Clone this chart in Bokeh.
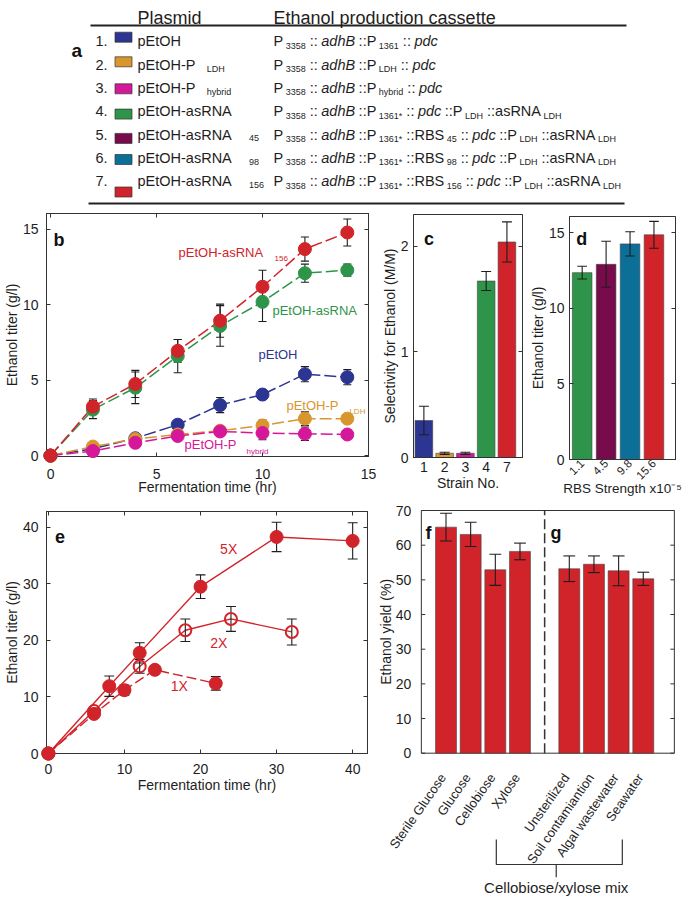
import math
from bokeh.plotting import figure
from bokeh.models import Range1d, LinearAxis, FixedTicker, Label
from bokeh.layouts import row, column
from bokeh.embed import file_html
from bokeh.resources import INLINE
from bokeh.core.properties import value

FONT = "Liberation Sans"
AXC = "#333333"
TXC = "#1e1e1e"
ERRC = "#1e1e1e"
BLUE = "#2c3591"
ORANGE = "#d9962f"
MAGENTA = "#d5179a"
GREEN = "#2e944a"
PURPLE = "#770b4b"
TEAL = "#0b6f98"
RED = "#d1232a"

# ------------------------------------------------------------------ data
# (a) plasmid table
plasmid_names = ["pEtOH", "pEtOH-P", "pEtOH-P", "pEtOH-asRNA", "pEtOH-asRNA", "pEtOH-asRNA", "pEtOH-asRNA"]
plasmid_subs = ["", "LDH", "hybrid", "", "45", "98", "156"]
plasmid_colors = [BLUE, ORANGE, MAGENTA, GREEN, PURPLE, TEAL, RED]
_head = [("P", "n"), ("3358", "s"), ("::", "n"), ("adhB", "i"), ("::P", "n")]
_tail_asrna = [("::P", "n"), ("LDH", "s"), ("::asRNA", "n"), ("LDH", "s")]
cassette_rows = [
    _head + [("1361", "s"), ("::", "n"), ("pdc", "i")],
    _head + [("LDH", "s"), ("::", "n"), ("pdc", "i")],
    _head + [("hybrid", "s"), ("::", "n"), ("pdc", "i")],
    _head + [("1361*", "s"), ("::", "n"), ("pdc", "i")] + _tail_asrna,
    _head + [("1361*", "s"), ("::RBS", "n"), ("45", "s"), ("::", "n"), ("pdc", "i")] + _tail_asrna,
    _head + [("1361*", "s"), ("::RBS", "n"), ("98", "s"), ("::", "n"), ("pdc", "i")] + _tail_asrna,
    _head + [("1361*", "s"), ("::RBS", "n"), ("156", "s"), ("::", "n"), ("pdc", "i")] + _tail_asrna,
]

# (b) time courses
b_time = [0, 2, 4, 6, 8, 10, 12, 14]
b_pEtOH = [0, 0.45, 1.15, 2.05, 3.35, 4.05, 5.4, 5.2]
b_pEtOH_err = [0, 0.1, 0.15, 0.15, 0.5, 0.25, 0.5, 0.5]
b_PLDH = [0, 0.6, 1.1, 1.4, 1.65, 2.0, 2.45, 2.45]
b_PLDH_err = [0, 0.1, 0.15, 0.2, 0.3, 0.35, 0.45, 0.25]
b_Phybrid = [0, 0.3, 0.85, 1.3, 1.6, 1.5, 1.45, 1.4]
b_Phybrid_err = [0, 0.1, 0.15, 0.15, 0.3, 0.45, 0.45, 0.15]
b_asRNA = [0, 3.05, 4.5, 6.6, 8.6, 10.2, 12.1, 12.3]
b_asRNA_err = [0, 0.6, 1.05, 1.1, 1.35, 1.3, 0.6, 0.4]
b_asRNA156 = [0, 3.25, 4.75, 6.95, 8.95, 11.2, 13.7, 14.8]
b_asRNA156_err = [0, 0.5, 0.9, 0.75, 1.1, 1.1, 0.8, 0.9]
b_xticks = [0, 5, 10, 15]
b_yticks = [0, 5, 10, 15]

# (c) selectivity
c_strains = ["1", "2", "3", "4", "7"]
c_vals = [0.35, 0.04, 0.04, 1.67, 2.04]
c_err = [0.135, 0.01, 0.01, 0.09, 0.19]
c_colors = [BLUE, ORANGE, MAGENTA, GREEN, RED]
c_yticks = [0, 1, 2]

# (d) RBS strength
d_rbs = ["1.1", "4.5", "9.8", "15.6"]
d_vals = [12.35, 12.9, 14.25, 14.85]
d_err = [0.42, 1.52, 0.8, 0.89]
d_colors = [GREEN, PURPLE, TEAL, RED]
d_yticks = [0, 5, 10, 15]

# (e) scale-up time courses
e_5x_t = [0, 8, 12, 20, 30, 40]
e_5x = [0, 11.9, 17.8, 29.5, 38.3, 37.6]
e_5x_err = [0, 1.8, 1.8, 2.1, 2.6, 3.2]
e_2x_t = [0, 6, 12, 18, 24, 32]
e_2x = [0, 7.5, 15.4, 21.8, 23.8, 21.5]
e_2x_err = [0, 0.4, 1.2, 2.0, 2.2, 2.3]
e_1x_t = [0, 6, 10, 14, 22]
e_1x = [0, 7.0, 11.2, 14.8, 12.4]
e_1x_err = [0, 0.3, 0.9, 0.5, 1.2]
e_xticks = [0, 10, 20, 30, 40]
e_yticks = [0, 10, 20, 30, 40]

# (f, g) ethanol yield
fg_labels = ["Sterile Glucose", "Glucose", "Cellobiose", "Xylose",
             "Unsterilized", "Soil contamiantion", "Algal wastewater", "Seawater"]
fg_pos = [1, 2, 3, 4, 6, 7, 8, 9]
fg_vals = [65.2, 63.1, 52.9, 58.2, 53.2, 54.5, 52.6, 50.3]
fg_err = [4.0, 3.5, 4.5, 2.4, 3.7, 2.4, 4.3, 1.9]
fg_sep = 5
fg_xmax = 10.26
fg_yticks = [0, 10, 20, 30, 40, 50, 60, 70]
fg_group_label = "Cellobiose/xylose mix"

# ------------------------------------------------------------------ helpers
_W = {}
for chars, w in [(" !,.:;/fIt", 278), ("()-r", 333), ("*", 389),
                 ("0123456789abdeghnopquL", 556), ("ckstvxyzJ", 500), ("ijl", 222),
                 ("ABEKPSVXY", 667), ("CDHNRUw", 722), ("FTZ", 611), ("GOQ", 778),
                 ("Mm", 833), ("W", 944)]:
    for ch in chars:
        _W[ch] = w


def tw(s, size):
    return sum(_W.get(ch, 556) for ch in s) * size / 1000.0


def base_fig(w, h, xr, yr, ml, mr, mt, mb, **kw):
    p = figure(width=w, height=h, x_range=xr, y_range=yr, output_backend="svg",
               toolbar_location=None, min_border_left=ml, min_border_right=mr,
               min_border_top=mt, min_border_bottom=mb, frame_align=False, **kw)
    p.grid.visible = False
    p.outline_line_color = AXC
    p.outline_line_width = 1
    p.background_fill_color = "white"
    p.border_fill_color = "white"
    return p


def style_axis(ax, ticks, tick_in=4, size="14px", standoff=6, labels=None):
    ax.ticker = FixedTicker(ticks=ticks)
    ax.minor_tick_line_color = None
    ax.major_tick_in = tick_in
    ax.major_tick_out = 0
    ax.axis_line_color = AXC
    ax.major_tick_line_color = AXC
    ax.major_label_text_font = FONT
    ax.major_label_text_font_size = size
    ax.major_label_text_color = TXC
    ax.major_label_standoff = standoff
    ax.axis_label_text_font = FONT
    ax.axis_label_text_font_size = "14px"
    ax.axis_label_text_font_style = "normal"
    ax.axis_label_text_color = TXC
    ax.axis_label_standoff = 0
    if labels is not None:
        ax.major_label_overrides = {t: l for t, l in zip(ticks, labels)}


def mirror(p, side, ticks):
    ax = LinearAxis()
    style_axis(ax, ticks, size="0px", standoff=0, labels=[""] * len(ticks))
    p.add_layout(ax, side)


def errbars(p, x, y, e, capw):
    xs = [a for a, b in zip(x, e) if b > 0]
    lo = [a - b for a, b in zip(y, e) if b > 0]
    hi = [a + b for a, b in zip(y, e) if b > 0]
    p.segment(x0=xs, y0=lo, x1=xs, y1=hi, line_color=ERRC, line_width=1.1)
    p.segment(x0=[v - capw for v in xs], y0=hi, x1=[v + capw for v in xs], y1=hi, line_color=ERRC, line_width=1.1)
    p.segment(x0=[v - capw for v in xs], y0=lo, x1=[v + capw for v in xs], y1=lo, line_color=ERRC, line_width=1.1)


def letter(p, x, y, t):
    p.add_layout(Label(x=x, y=y, text=t, text_font=FONT, text_font_size="18px",
                       text_font_style="bold", text_color="#111111",
                       text_baseline="alphabetic", text_align="left"))


def tlabel(p, x, y, t, color, size="13px", align="left"):
    p.add_layout(Label(x=x, y=y, text=t, text_font=FONT, text_font_size=size,
                       text_color=color, text_baseline="middle", text_align=align))


# ------------------------------------------------------------------ (a) table
ta = figure(width=685, height=208, x_range=Range1d(0, 685), y_range=Range1d(208, 0),
            output_backend="svg", toolbar_location=None, min_border=0, frame_align=False,
            x_axis_location=None, y_axis_location=None)
ta.outline_line_color = None
ta.grid.visible = False

ta.segment(x0=[90, 88], y0=[25, 203], x1=[626, 624], y1=[25, 203], line_color="#222222", line_width=2)
ta.text(x=[137, 273], y=[17, 17], text=["Plasmid", "Ethanol production cassette"],
        text_font=value(FONT), text_font_size="18px", text_color=TXC,
        text_baseline="alphabetic", text_align="left")
ta.text(x=[71], y=[50], text=["a"], text_font=value(FONT), text_font_size="19px",
        text_font_style="bold", text_color="#111111", text_baseline="alphabetic")

MAIN = 14.5
SUB = 9.0
row_y = [35.7 + 23.3 * i for i in range(len(plasmid_names))]
sq_dy = [1.0, 2.3, 6.0, 8.0, 9.0, 6.8, 16.0]
name_sub_gap = [0, 8, 8, 0, 14, 14, 14]

num_x, num_y, num_t = [], [], []
nm_x, nm_y, nm_t = [], [], []
sb_x, sb_y, sb_t = [], [], []
it_x, it_y, it_t = [], [], []
for i, name in enumerate(plasmid_names):
    yb = row_y[i] + 5.2
    num_x.append(95); num_y.append(yb); num_t.append(f"{i + 1}.")
    nm_x.append(137); nm_y.append(yb); nm_t.append(name)
    if plasmid_subs[i]:
        sb_x.append(137 + tw(name, MAIN) + name_sub_gap[i]); sb_y.append(row_y[i] + 9); sb_t.append(plasmid_subs[i])
    x = 273.0
    prev = None
    for t, k in cassette_rows[i]:
        if prev is not None:
            x += 2.5 if k == "s" else (4.0 if prev == "s" else 3.5)
        if k == "s":
            sb_x.append(x); sb_y.append(row_y[i] + 9.5); sb_t.append(t)
            x += tw(t, SUB)
        elif k == "i":
            it_x.append(x); it_y.append(yb); it_t.append(t)
            x += tw(t, MAIN)
        else:
            nm_x.append(x); nm_y.append(yb); nm_t.append(t)
            x += tw(t, MAIN)
        prev = k

ta.rect(x=[123] * len(plasmid_colors), y=[row_y[i] + sq_dy[i] for i in range(len(plasmid_colors))],
        width=17, height=10, fill_color=plasmid_colors, line_color="#333333", line_width=0.7)
ta.text(x=num_x, y=num_y, text=num_t, text_font=value(FONT), text_font_size=f"{MAIN}px",
        text_color=TXC, text_baseline="alphabetic")
ta.text(x=nm_x, y=nm_y, text=nm_t, text_font=value(FONT), text_font_size=f"{MAIN}px",
        text_color=TXC, text_baseline="alphabetic")
ta.text(x=it_x, y=it_y, text=it_t, text_font=value(FONT), text_font_size=f"{MAIN}px",
        text_font_style="italic", text_color=TXC, text_baseline="alphabetic")
ta.text(x=sb_x, y=sb_y, text=sb_t, text_font=value(FONT), text_font_size=f"{SUB}px",
        text_color=TXC, text_baseline="alphabetic")

# ------------------------------------------------------------------ (b)
pb = base_fig(378, 292, Range1d(-0.19, 15.0), Range1d(-0.06, 16.06), 45, 10, 5, 44)
style_axis(pb.xaxis[0], b_xticks, standoff=12)
pb.xaxis[0].axis_label = "Fermentation time (hr)"
pb.xaxis[0].axis_label_standoff = -3
style_axis(pb.yaxis[0], b_yticks, standoff=8)
pb.yaxis[0].axis_label = "Ethanol titer (g/l)"
mirror(pb, "above", b_xticks)
mirror(pb, "right", b_yticks)

b_capw = 0.19
for vals, errs, col in [(b_pEtOH, b_pEtOH_err, BLUE), (b_PLDH, b_PLDH_err, ORANGE),
                        (b_Phybrid, b_Phybrid_err, MAGENTA), (b_asRNA, b_asRNA_err, GREEN),
                        (b_asRNA156, b_asRNA156_err, RED)]:
    pb.line(b_time, vals, line_color=col, line_width=1.5, line_dash="12 4")
    errbars(pb, b_time, vals, errs, b_capw)
    pb.scatter(b_time, vals, size=13, fill_color=col, line_color=col, level="overlay")

letter(pb, 0.14, 14.3, "b")
tlabel(pb, 6.04, 13.48, "pEtOH-asRNA", RED)
tlabel(pb, 10.57, 13.09, "156", RED, size="8px")
tlabel(pb, 10.47, 9.65, "pEtOH-asRNA", GREEN)
tlabel(pb, 9.81, 6.68, "pEtOH", BLUE)
tlabel(pb, 11.13, 3.3, "pEtOH-P", ORANGE)
tlabel(pb, 14.1, 2.95, "LDH", ORANGE, size="8px")
tlabel(pb, 6.32, 0.73, "pEtOH-P", MAGENTA)
tlabel(pb, 9.25, 0.25, "hybrid", MAGENTA, size="8px")

# ------------------------------------------------------------------ (c)
c_pos = [i + 1 for i in range(len(c_strains))]
pc = base_fig(148, 292, Range1d(0.5, 5.75), Range1d(0, 2.3), 34, 4, 6, 43)
style_axis(pc.xaxis[0], c_pos, tick_in=0, standoff=4, labels=c_strains)
pc.xaxis[0].axis_label = "Strain No."
style_axis(pc.yaxis[0], c_yticks, standoff=5)
pc.yaxis[0].axis_label = "Selectivity for Ethanol (M/M)"
mirror(pc, "right", c_yticks)
pc.vbar(x=c_pos, top=c_vals, width=0.85, fill_color=c_colors, line_color="#444444", line_width=0.6)
errbars(pc, c_pos, c_vals, c_err, 0.24)
letter(pc, 1.0, 2.07, "c")

# ------------------------------------------------------------------ (d)
d_pos = [i + 1 for i in range(len(d_rbs))]
pd_ = base_fig(159, 292, Range1d(0.47, 4.9), Range1d(0, 16.06), 41, 10, 8, 41)
style_axis(pd_.xaxis[0], d_pos, tick_in=0, size="11.5px", standoff=2, labels=d_rbs)
pd_.xaxis[0].major_label_orientation = math.pi / 4
pd_.xaxis[0].axis_label = "RBS Strength x10\u207b\u2075"
pd_.xaxis[0].axis_label_text_font_size = "13.5px"
pd_.xaxis[0].axis_label_standoff = -5
style_axis(pd_.yaxis[0], d_yticks, standoff=5)
pd_.yaxis[0].axis_label = "Ethanol titer (g/l)"
mirror(pd_, "right", d_yticks)
pd_.vbar(x=d_pos, top=d_vals, width=0.82, fill_color=d_colors, line_color="#444444", line_width=0.6)
errbars(pd_, d_pos, d_vals, d_err, 0.2)
letter(pd_, 0.75, 14.6, "d")

# ------------------------------------------------------------------ (e)
pe = base_fig(378, 397, Range1d(-0.25, 41.95), Range1d(0, 42.8), 43, 11, 11, 144)
style_axis(pe.xaxis[0], e_xticks, standoff=10)
pe.xaxis[0].axis_label = "Fermentation time (hr)"
style_axis(pe.yaxis[0], e_yticks, standoff=8)
pe.yaxis[0].axis_label = "Ethanol titer (g/l)"
mirror(pe, "above", e_xticks)
mirror(pe, "right", e_yticks)
e_capw = 0.65
pe.line(e_1x_t, e_1x, line_color=RED, line_width=1.4, line_dash="10 4")
errbars(pe, e_1x_t, e_1x, e_1x_err, e_capw)
pe.scatter(e_1x_t, e_1x, size=13, fill_color=RED, line_color=RED, level="overlay")
pe.line(e_2x_t, e_2x, line_color=RED, line_width=1.4)
errbars(pe, e_2x_t, e_2x, e_2x_err, e_capw)
pe.scatter(e_2x_t, e_2x, size=12, fill_color=None, line_color=RED, line_width=2, level="overlay")
pe.line(e_5x_t, e_5x, line_color=RED, line_width=1.4)
errbars(pe, e_5x_t, e_5x, e_5x_err, e_capw)
pe.scatter(e_5x_t, e_5x, size=13, fill_color=RED, line_color=RED, level="overlay")
letter(pe, 0.87, 38.4, "e")
tlabel(pe, 23.7, 36.1, "5X", RED, size="14px", align="center")
tlabel(pe, 22.4, 19.5, "2X", RED, size="14px", align="center")
tlabel(pe, 17.2, 12.0, "1X", RED, size="14px", align="center")

# ------------------------------------------------------------------ (f, g)
# The whole panel is one frame (no library axes) so that rotated category
# labels, the group bracket and the axis title all fit; the data area is 0..fg_xmax x 0..70.
FG_W, FG_H = 307, 397
FG_PX, FG_PY = 24.66, 3.467          # pixels per data unit
FG_X1, FG_Y0 = 67.5, 252.7           # pixel position of x=1 / y=0 inside the panel
fg_xr = Range1d(1 - FG_X1 / FG_PX, 1 + (FG_W - FG_X1) / FG_PX)
fg_yr = Range1d(-(FG_H - FG_Y0) / FG_PY, FG_Y0 / FG_PY)
pf = figure(width=FG_W, height=FG_H, x_range=fg_xr, y_range=fg_yr, output_backend="svg",
            toolbar_location=None, min_border=0, frame_align=False,
            x_axis_location=None, y_axis_location=None)
pf.outline_line_color = None
pf.grid.visible = False
ytop = fg_yticks[-1]
tick_len = 4 / FG_PX
pf.quad(left=[0], right=[fg_xmax], bottom=[0], top=[ytop], fill_color=None, line_color=AXC, line_width=1)
pf.segment(x0=[0] * len(fg_yticks), y0=fg_yticks, x1=[tick_len] * len(fg_yticks), y1=fg_yticks,
           line_color=AXC, line_width=1)
pf.segment(x0=[fg_xmax - tick_len] * len(fg_yticks), y0=fg_yticks, x1=[fg_xmax] * len(fg_yticks), y1=fg_yticks,
           line_color=AXC, line_width=1)
pf.text(x=[-10 / FG_PX] * len(fg_yticks), y=fg_yticks, text=[str(t) for t in fg_yticks],
        text_font=value(FONT), text_font_size="14px", text_color=TXC,
        text_align="right", text_baseline="middle")
pf.text(x=[1 - 60 / FG_PX], y=[ytop / 2], text=["Ethanol yield (%)"], angle=math.pi / 2,
        text_font=value(FONT), text_font_size="14px", text_color=TXC,
        text_align="center", text_baseline="middle")
pf.segment(x0=[fg_sep], y0=[0], x1=[fg_sep], y1=[ytop], line_color=AXC, line_width=1.5, line_dash="10 4")
pf.vbar(x=fg_pos, top=fg_vals, width=0.85, fill_color=RED, line_color="#444444", line_width=0.6)
errbars(pf, fg_pos, fg_vals, fg_err, 0.24)
pf.text(x=[p - 0.12 for p in fg_pos], y=[-6.3] * len(fg_pos), text=fg_labels, angle=0.96,
        text_font=value(FONT), text_font_size="13px", text_color=TXC,
        text_align="right", text_baseline="middle")
# bracket for the cellobiose/xylose mix group
br_l, br_r, br_c = 3.04, 8.15, 5.47
br_top, br_bot, br_stem = -24.9, -32.1, -35.8
pf.multi_line(xs=[[br_l, br_l, br_r, br_r], [br_c, br_c]],
              ys=[[br_top, br_bot, br_bot, br_top], [br_bot, br_stem]],
              line_color=AXC, line_width=1.2)
pf.text(x=[br_c], y=[-38.6], text=[fg_group_label], text_font=value(FONT), text_font_size="15px",
        text_color=TXC, text_align="center", text_baseline="middle")
letter(pf, 0.17, 63.5, "f")
letter(pf, 5.24, 63.4, "g")

layout = column(ta, row(pb, pc, pd_), row(pe, pf))
open("out.html", "w").write(file_html(layout, INLINE))
